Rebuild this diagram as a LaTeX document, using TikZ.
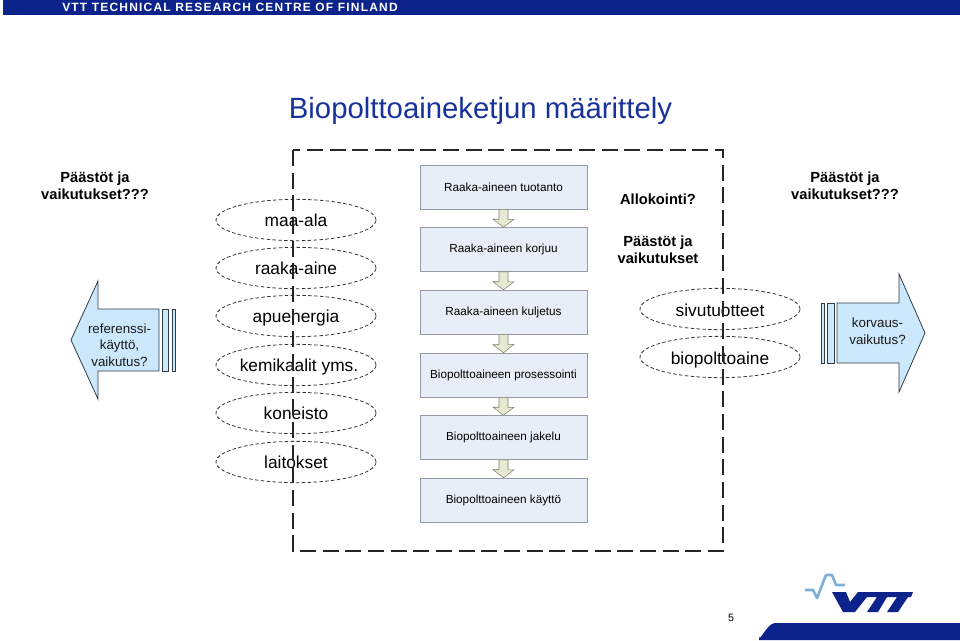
\documentclass[tikz,border=0pt]{standalone}
\usepackage{fontspec}
\setmainfont{Liberation Sans}
\usetikzlibrary{shapes.geometric}
\definecolor{vttblue}{RGB}{12,35,140}
\definecolor{titleblue}{RGB}{25,50,155}
\definecolor{logolight}{RGB}{125,175,215}
\definecolor{boxfill}{RGB}{232,238,247}
\definecolor{boxline}{RGB}{150,155,165}
\definecolor{arrowfill}{RGB}{232,233,212}
\definecolor{arrowline}{RGB}{125,130,100}
\definecolor{sidefill}{RGB}{204,232,252}
\definecolor{sideline}{RGB}{50,60,70}
\newcommand{\ovaltext}[2][5.2pt]{\makebox[0pt]{\smash{\raisebox{-#1}{#2}}}}
\tikzset{
  resource/.style={draw=black!80,semithick,dash pattern=on 2.6pt off 1.8pt,ellipse,minimum width=120pt,minimum height=31pt,inner sep=0pt,font=\fontsize{13}{15}\selectfont},
  chainbox/.style={draw=boxline,fill=boxfill,minimum width=125pt,minimum height=33pt,inner sep=0pt,font=\fontsize{8.8}{11}\selectfont},
  chainarrow/.style={draw=arrowline,fill=arrowfill},
  sidearrow/.style={draw=sideline,fill=sidefill,semithick},
  question/.style={align=center,font=\bfseries\fontsize{11}{13}\selectfont},
  sidelabel/.style={align=center,text=black!90,font=\fontsize{10}{12.5}\selectfont}
}
\begin{document}
\begin{tikzpicture}[x=0.75pt,y=-0.75pt]
\useasboundingbox (0,0) rectangle (960,640);

% header and footer
\fill[vttblue] (3,0) rectangle (960,15);
\node[text=white,anchor=west,inner sep=0pt] (header) at (62,7.5) {\addfontfeatures{LetterSpace=10}\bfseries\fontsize{9}{11}\selectfont VTT TECHNICAL RESEARCH CENTRE OF FINLAND};
\fill[vttblue] (759,640) -- (759,636) to[out=-90,in=180] (775,623) -- (960,623) -- (960,640) -- cycle;
\node[inner sep=0pt,font=\fontsize{8}{10}\selectfont] (page) at (731,618) {5};
\node[text=titleblue,inner sep=0pt,font=\fontsize{22}{26}\selectfont] (title) at (480.5,110.5) {Biopolttoaineketjun määrittely};

% logo
\draw[logolight,line width=2pt,line join=round] (805,590) -- (813,590) -- (817,598) -- (826,575) -- (832,575) -- (836,585) -- (845,585);
\fill[vttblue] (832,592) -- (846,592) -- (850,602) -- (858,592) -- (913,592) -- (911,597) -- (908,597) -- (898,612) -- (887,612) -- (897,597) -- (887,597) -- (878,612) -- (867,612) -- (877,597) -- (867,597) -- (855,612) -- (843,612) -- cycle;

% life cycle chain
\foreach \i/\y/\txt in {1/187/Raaka-aineen tuotanto,2/249.5/Raaka-aineen korjuu,3/312/Raaka-aineen kuljetus,4/375/Biopolttoaineen prosessointi,5/437.5/Biopolttoaineen jakelu,6/500/Biopolttoaineen käyttö}
   \node[chainbox] (box\i) at (503.5,\y) {\txt};
\foreach \i/\j in {1/2,2/3,3/4,4/5,5/6}
   \draw[chainarrow] (box\i.south) ++(-4.5,0) -- ++(9,0) -- ++(0,10) -- ++(6,0) -- (box\j.north) -- ++(-10.5,-8) -- ++(6,0) -- cycle;

% inputs
\foreach \n/\y/\txt in {land/220/maa-ala,raw/268/raaka-aine,energy/316/apuenergia,chem/365/\hspace{4.5pt}kemikaalit yms.,machine/413/koneisto,plant/462/laitokset}
   \node[resource] (\n) at (296,\y) {\ovaltext{\txt}};

% outputs
\node[resource] (coprod) at (720,309) {\ovaltext[5.8pt]{sivutuotteet}};
\node[resource] (biofuel) at (720,357) {\ovaltext[5.8pt]{biopolttoaine}};

% system boundary
\draw[black!85,line width=1.4pt,dash pattern=on 12pt off 5pt] (293,150) rectangle (723,551);

% side arrows
\draw[sidearrow] (71,340) -- (98,281) -- (98,309) -- (159,309) -- (159,371) -- (98,371) -- (98,399) -- cycle;
\draw[sidearrow] (162,309) rectangle (168,371);
\draw[sidearrow] (172,309) rectangle (175,371);
\draw[sidearrow] (925,333) -- (899,274) -- (899,303) -- (837,303) -- (837,363) -- (899,363) -- (899,392) -- cycle;
\draw[sidearrow] (827,303) rectangle (834,363);
\draw[sidearrow] (821,303) rectangle (824,363);

\node[sidelabel] (refuse) at (119.5,345) {referenssi-\\käyttö,\\vaikutus?};
\node[sidelabel] (subst) at (877.5,331) {korvaus-\\vaikutus?};

% questions
\node[question] (leftq) at (95,186) {Päästöt ja\\vaikutukset???};
\node[question] (rightq) at (845,185.5) {Päästöt ja\\vaikutukset???};
\node[question] (alloc) at (658,199) {Allokointi?};
\node[question] (emis) at (658,249.5) {Päästöt ja\\vaikutukset};
\end{tikzpicture}
\end{document}
